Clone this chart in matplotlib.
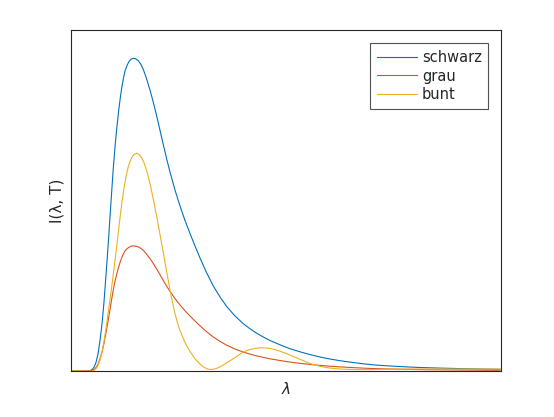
import matplotlib
matplotlib.use("Agg")
import matplotlib.pyplot as plt

# wavelength (arbitrary units) and intensities (arbitrary units)
lam_s = [0, 17, 19, 21, 23, 25, 27, 29, 31, 33, 35, 37, 39, 41, 42.3, 44, 45.5, 47.3, 49,
         50.7, 52.5, 54, 56, 58, 60, 62.3, 64.5, 67.3, 70, 72.3, 75, 79, 82, 85.7, 89,
         92.3, 95.7, 99, 104, 109, 114, 119, 124, 129, 135, 142.3, 149, 155.7, 164,
         172.3, 179, 185, 192.3, 199, 209, 219, 229, 239, 249, 259, 269, 279, 292.3,
         304, 319, 334, 349, 369, 389, 409, 429]
schwarz = [0, 0, 0.4, 1.4, 3.7, 8.5, 17, 30.5, 47, 69, 96, 124, 154, 184, 203, 224, 240,
           257, 271, 283, 293, 300, 305.5, 309.5, 311.8, 312.7, 312.3, 310.3, 306.5,
           301.5, 294, 281, 269.9, 254.9, 240.7, 226.3, 212, 199, 181, 165, 150.5, 137.5,
           125, 113, 99.5, 85, 74, 64.5, 55, 47.3, 42.2, 38.2, 34, 30.5, 26.2, 22.3, 19.2,
           16.4, 14, 12, 10.3, 8.9, 7.2, 6, 5, 4.2, 3.5, 2.9, 2.4, 2, 1.7]
grau = [0, 0, 0.16, 0.56, 1.48, 3.4, 6.8, 12.2, 18.8, 27.6, 38.4, 49.6, 61.6, 73.6, 81.2,
        89.6, 96, 102.8, 108.4, 113.2, 117.2, 120, 122.2, 123.8, 124.7, 125.1, 124.9,
        124.1, 122.6, 120.6, 117.6, 112.4, 107.96, 101.96, 96.28, 90.52, 84.8, 79.6,
        72.4, 66, 60.2, 55, 50, 45.2, 39.8, 34, 29.6, 25.8, 22, 18.9, 16.9, 15.3, 13.6,
        12.2, 10.5, 8.92, 7.68, 6.56, 5.6, 4.8, 4.12, 3.56, 2.88, 2.4, 2, 1.68, 1.4, 1.16,
        0.96, 0.8, 0.68]

lam_b = [0, 21, 23, 25, 27, 29, 31, 33, 35, 37, 39, 41, 43, 45, 47, 49, 51, 53, 55, 57,
         59, 61, 63, 65.7, 68, 70.7, 73, 75.7, 79, 82.3, 85.5, 89, 92, 95, 97, 99, 101.5,
         104, 106.5, 109, 114, 119, 124, 129, 133, 137, 141, 145, 149, 153, 157, 161,
         165.7, 170, 174, 179, 184, 189, 194, 199, 204, 209, 214, 219, 224, 229, 234,
         239, 244, 249, 254, 259, 264, 269, 279, 289, 304, 319, 349, 389, 429]
bunt = [0, 0, 0.7, 2.3, 5.5, 11, 19, 29.7, 42.7, 56.7, 71.3, 86.5, 102.3, 118.7, 135.7,
        153.1, 169.1, 183.1, 194.5, 203.1, 209.5, 213.9, 216.5, 217.7, 216.5, 213.2,
        208.2, 200.5, 187.5, 172, 155.5, 136.5, 120, 103, 92, 81, 68.5, 57.5, 48.2, 40.5,
        28.5, 19.5, 12.2, 7, 3.7, 1.8, 1.5, 2.4, 4, 6.5, 9, 11.5, 14.5, 17.5, 19.8, 21.5,
        22.6, 23.2, 23.1, 22.5, 21.4, 19.8, 17.9, 15.9, 13.8, 11.8, 9.5, 7.5, 6, 4.7, 3.7,
        3, 2.4, 2, 1.6, 1.4, 1.5, 1.8, 2, 2, 1.9]

labels = ["schwarz", "grau", "bunt"]
colors = ["#0072BD", "#D95319", "#EDB120"]

fig = plt.figure(figsize=(5.54, 4.17), dpi=100)
ax = fig.add_axes([71/554, 46/417, 430/554, 341/417])

ax.plot(lam_s, schwarz, color=colors[0], lw=0.8, label=labels[0])
ax.plot(lam_s, grau, color=colors[1], lw=0.8, label=labels[1])
ax.plot(lam_b, bunt, color=colors[2], lw=0.8, label=labels[2])

ax.set_xlim(0, 430)
ax.set_ylim(0, 341)
ax.set_xticks([])
ax.set_yticks([])
for sp in ax.spines.values():
    sp.set_color("#262626")
    sp.set_linewidth(0.8)

ax.set_xlabel(r"$\lambda$", fontsize=11, color="#262626", labelpad=7.5)
ax.set_ylabel("I(λ, T)", fontsize=11, color="#262626", labelpad=5)

leg = ax.legend(loc="upper right", bbox_to_anchor=(488.3/554, 1-43.3/417),
                bbox_transform=fig.transFigure, borderaxespad=0, fontsize=10.5,
                handlelength=2.75, handletextpad=0.35, labelspacing=0.25,
                borderpad=0.45, frameon=True, fancybox=False)
leg.get_frame().set_edgecolor("#262626")
leg.get_frame().set_linewidth(0.8)
for t in leg.get_texts():
    t.set_color("#262626")

fig.savefig("out.png", dpi=100)
